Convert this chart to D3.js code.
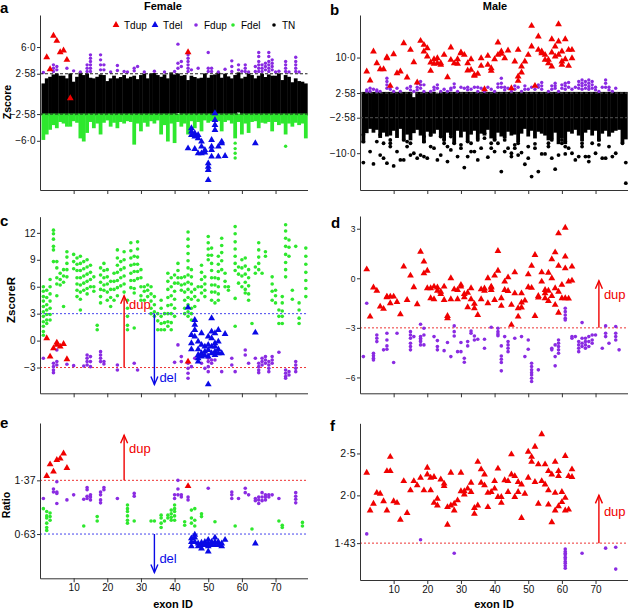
<!DOCTYPE html>
<html>
<head>
<meta charset="utf-8">
<script src="https://cdn.jsdelivr.net/npm/d3@7"></script>
<style>
body { margin: 0; background: #fff; }
text { font-family: "Liberation Sans", Arial, sans-serif; }
</style>
</head>
<body>
<svg id="chart" width="631" height="611"></svg>
<script>
var RED = "#f00000", BLUE = "#0a0ae6", PURPLE = "#8a2be2", GREEN = "#2ee82e", BLACK = "#000";

var exonTicks = [10, 20, 30, 40, 50, 60, 70];

// ---- panel a (Female, Zscore) ----
var tnTopA = [1.15,1.8,2.0,2.3,2.43,2.14,2.14,1.8,2.43,1.37,2.0,2.56,2.22,2.43,1.88,1.8,2.0,2.3,2.22,1.45,
  1.8,2.14,1.8,1.97,2.22,1.8,2.0,2.14,1.7,2.22,2.4,1.8,2.43,2.48,2.22,2.0,2.3,1.8,2.56,2.3,
  2.43,2.14,2.22,1.58,2.14,1.97,1.8,1.88,2.43,1.88,2.22,2.3,2.56,1.88,2.4,2.05,1.8,2.22,2.56,1.8,
  2.0,2.43,2.22,1.8,2.14,2.4,1.97,2.3,2.14,2.14,2.43,1.58,2.22,2.0,1.3,1.8,1.45,1.37,1.15];
var tnBotA = [-2.58,-2.58,-2.58,-2.58,-2.58,-2.58,-2.58,-2.58,-2.58,-2.58,-2.58,-2.58,-2.58,-2.58,-2.58,-2.58,-2.58,-2.58,-2.58,-2.58,
  -2.58,-2.58,-2.58,-2.58,-2.58,-2.58,-2.58,-2.58,-2.58,-2.58,-2.58,-2.58,-2.58,-2.58,-2.58,-2.58,-2.58,-2.58,-2.58,-2.58,
  -2.26,-2.58,-2.58,-2.58,-2.58,-2.58,-2.58,-2.58,-2.58,-2.58,-2.58,-2.58,-2.58,-2.58,-2.58,-2.58,-2.58,-2.58,-2.2,-2.58,
  -2.58,-2.58,-2.58,-2.58,-2.58,-2.58,-2.58,-2.58,-2.58,-2.58,-2.58,-2.58,-2.58,-2.58,-2.58,-2.58,-2.58,-2.58,-2.58];
var fdelBotA = [-5.7,-5.0,-4.4,-3.8,-4.2,-3.4,-3.6,-4.0,-4.0,-3.3,-3.5,-5.5,-5.9,-4.8,-3.4,-4.2,-3.6,-5.0,-3.5,-3.2,
  -4.0,-3.5,-4.2,-3.4,-3.6,-3.3,-3.4,-6.3,-3.6,-4.6,-3.5,-4.0,-3.3,-3.6,-3.2,-5.0,-3.8,-5.9,-3.6,-6.1,
  -3.4,-4.0,-3.6,-5.0,-3.3,-4.2,-3.4,-4.6,-3.2,-3.5,-3.3,-3.0,-3.3,-4.6,-3.4,-3.2,-3.6,-5.5,-3.4,-5.0,
  -3.6,-4.8,-3.4,-3.3,-4.2,-3.5,-3.6,-3.4,-4.6,-3.4,-3.8,-3.6,-5.0,-3.6,-4.0,-3.5,-3.8,-3.6,-5.5];
var fdelExtraA = [[58,[-6.3,-7.0,-7.6,-8.2]],[73,[-6.7]]];
var fdupA = [[1,[2.74]],[4,[3.72,3.29,2.86]],[5,[3.5,3.08]],[8,[3.29]],[10,[2.95]],[12,[2.8]],
  [14,[3.72,3.29,2.86]],[15,[5.0,4.57,4.15,3.72,3.29,2.86]],[18,[5.0,4.36,3.72,3.08]],[19,[3.72,3.08]],
  [21,[2.8]],[23,[3.63,2.99]],[25,[2.86]],[26,[2.8]],[28,[3.29,2.95]],[29,[3.5]],[31,[2.8]],[34,[2.9]],
  [37,[2.8]],[40,[2.86]],[41,[6.37,3.93,3.29]],[42,[4.15,3.5]],[44,[5.0,4.57,4.15,3.72,3.29,2.86]],
  [45,[3.08]],[47,[3.29]],[50,[5.3,3.29,2.86]],[51,[3.29,2.86]],[53,[2.8]],[55,[3.16]],[57,[4.23,3.5,2.86]],
  [59,[3.72,3.08]],[60,[2.9]],[61,[3.72,3.29,2.86]],[62,[2.8]],[64,[3.5,2.86]],[65,[5.3,4.79,4.15,3.72,3.29,2.86]],
  [66,[3.72,3.29,2.86]],[67,[3.93,3.5,3.08]],[68,[5.3,4.79,4.15,3.72,3.29,2.86]],[69,[4.36,3.93,3.5,3.08]],
  [70,[2.8]],[71,[2.9]],[73,[4.15,3.72,3.29,2.86]],[74,[2.8]],[76,[4.7,4.15,3.72,3.29,2.86]],[77,[2.8]]];
var tdupA = [[2,[4.7]],[3,[3.16]],[4,[7.44]],[5,[6.79]],[6,[5.34]],[7,[5.56]],[8,[4.36]],[9,[-0.56]],[44,[5.34]]];
var tdelA = [[44,[-6.97]],[45,[-4.4,-4.83,-5.26]],[46,[-5.04,-5.47,-7.05]],[47,[-5.26,-5.68,-7.61]],
  [48,[-6.11,-6.75,-7.61]],[49,[-7.18,-7.52]],[50,[-8.89,-9.32,-9.74,-11.03]],[51,[-5.9,-6.75,-7.18,-8.03]],
  [52,[-2.48,-3.33,-3.97,-4.62]],[53,[-6.75,-8.03]],[54,[-6.11,-6.32]],[55,[-7.95]],[64,[-6.32]]];

// ---- panel b (Male, Zscore) ----
var tnTopB = [2.5,2.5,2.5,2.5,2.5,2.5,2.5,2.5,2.5,2.5,2.5,2.5,2.5,2.5,2.5,1.4,2.5,2.5,2.5,2.5,
  2.5,2.5,2.2,2.5,2.5,2.5,2.5,2.5,2.5,2.5,2.5,2.5,2.5,2.5,2.5,2.5,2.5,2.5,2.5,2.5,
  2.5,2.5,2.5,2.5,2.5,2.5,2.5,2.5,2.5,2.5,2.5,2.5,2.5,2.5,2.5,2.5,2.5,2.5,2.5,2.5,
  2.5,2.5,2.5,2.5,2.5,2.5,2.5,2.5,2.5,2.5,2.5,2.5,2.5,2.5,2.5,2.5,2.5,2.5,2.5];
var tnBotB = [-7.6,-5.5,-4.6,-5.4,-4.8,-6.5,-5.4,-6.2,-6.0,-5.0,-6.5,-4.6,-7.0,-5.8,-7.0,-5.5,-4.8,-6.0,-7.6,-5.2,
  -6.2,-5.6,-4.8,-6.4,-7.0,-5.4,-6.0,-7.8,-5.0,-6.4,-5.2,-7.4,-5.8,-5.0,-6.8,-5.6,-6.0,-4.8,-6.6,-7.0,
  -5.4,-6.2,-6.6,-5.2,-6.0,-5.8,-7.4,-5.6,-4.6,-6.2,-5.0,-6.6,-5.2,-5.6,-6.0,-7.0,-6.8,-5.4,-7.8,-6.6,
  -7.8,-5.2,-5.6,-4.8,-6.0,-7.2,-5.4,-4.8,-6.0,-5.0,-7.2,-5.6,-5.0,-6.2,-5.4,-5.0,-4.8,-7.6,-6.8];
var tnOutB = [[1,[-6.17,-7.57,-11.96]],[3,[-9.66]],[4,[-12.24]],[5,[-7.57]],[6,[-10.39,-6.17]],[7,[-7.92,-11.05]],
  [8,[-12.1]],[9,[-7.22,-7.92,-8.61]],[10,[-12.66]],[11,[-9.66]],[12,[-11.4]],[13,[-7.22,-11.4]],[14,[-7.57,-8.61]],
  [15,[-7.92,-10.39]],[16,[-10.01]],[17,[-11.05]],[18,[-10.39]],[19,[-6.52,-7.57,-10.7]],[20,[-11.05]],
  [21,[-6.17,-8.61]],[22,[-8.96]],[23,[-11.4]],[24,[-6.52,-10.39]],[25,[-7.22,-7.92]],[26,[-8.61,-11.75]],
  [27,[-9.31,-6.52]],[28,[-7.92]],[29,[-10.7]],[30,[-8.26,-8.96]],[31,[-13.0]],[32,[-7.57,-10.7]],
  [33,[-7.92,-9.66]],[34,[-9.66]],[35,[-7.22,-11.4]],[36,[-8.96]],[37,[-5.82,-6.87]],[38,[-10.84]],
  [39,[-7.92,-8.96]],[40,[-7.22,-9.66]],[41,[-7.92]],[42,[-13.84]],[43,[-7.22,-9.66]],[44,[-8.96]],
  [45,[-10.01,-10.7]],[46,[-8.26,-8.96]],[47,[-7.92,-10.39]],[48,[-9.87]],[49,[-12.31]],[50,[-8.61,-11.05]],
  [51,[-14.89]],[52,[-8.05,-8.96]],[53,[-13.84]],[54,[-10.15]],[55,[-10.15]],[56,[-7.92,-8.61]],
  [57,[-11.05,-7.22]],[58,[-13.35]],[59,[-10.39]],[60,[-7.22,-7.92]],[61,[-7.57,-8.61,-10.15]],[62,[-8.96]],
  [63,[-10.01]],[64,[-11.4]],[65,[-10.7]],[66,[-7.92,-8.61]],[67,[-10.7]],[68,[-10.7,-11.75]],[69,[-7.92]],
  [70,[-10.01]],[71,[-7.22,-8.26]],[72,[-11.05]],[73,[-11.05]],[74,[-8.61]],[75,[-10.7]],[76,[-10.01]],
  [78,[-7.92]],[79,[-11.96,-16.28]]];
var fdupB = [[2,[3.24,2.9]],[3,[3.59,2.9]],[4,[3.38]],[5,[3.24,2.9]],[6,[2.9]],[8,[5.68,4.99,4.29,3.59]],[9,[3.94,3.38]],
  [10,[2.9]],[11,[3.59]],[12,[2.9]],[14,[3.59]],[15,[3.94,3.24]],[16,[2.9]],[17,[4.64,3.8,3.24]],[18,[4.99,4.29,3.59]],
  [19,[4.29,2.9]],[21,[2.9]],[22,[3.8,3.24]],[23,[4.29,3.59]],[24,[2.9]],[25,[3.38]],[26,[2.9]],[27,[3.59,3.24]],
  [28,[4.5,3.8]],[29,[2.9]],[30,[3.8]],[31,[3.59]],[32,[3.8,3.24]],[33,[3.38]],[34,[3.8]],[35,[3.8,2.9]],[36,[3.59]],
  [37,[2.9]],[38,[3.8]],[39,[3.38]],[40,[2.9]],[41,[4.5,3.8]],[42,[5.68,4.64,3.8]],[43,[3.8,3.24]],[44,[3.59]],
  [45,[2.9]],[46,[4.08,3.38]],[47,[3.8]],[48,[2.9]],[49,[4.08,3.38]],[50,[3.38]],[51,[3.8]],[52,[3.38]],
  [53,[4.29,3.8]],[54,[4.78,4.08,3.38]],[56,[2.9]],[57,[4.08,3.38]],[58,[4.64,4.08,3.59]],[59,[2.9]],[60,[4.29,3.59]],
  [61,[4.64,4.08,3.38]],[62,[4.78,3.8]],[63,[3.38]],[64,[3.8]],[65,[4.99,4.29,3.59]],[66,[5.33,4.64,4.08,3.38]],
  [67,[4.99,4.29,3.59]],[68,[5.33,4.64,3.94,3.38]],[69,[4.99,4.29,3.59]],[70,[3.8,3.24]],[71,[2.9]],[72,[3.8]],
  [73,[5.33,4.64,3.8]],[74,[3.8,3.24]],[75,[2.9]],[76,[3.59]]];
var tdupB = [[2,[7.08]],[3,[5.2]],[4,[11.26]],[5,[8.82]],[6,[7.57]],[7,[7.57]],[8,[10.08,9.87]],[9,[4.08]],
  [10,[10.7]],[11,[6.73]],[12,[7.08]],[13,[13.0]],[14,[5.82]],[15,[11.61]],[16,[9.03]],[17,[4.78]],[18,[13.49]],
  [19,[12.66,11.26]],[20,[11.96,10.22]],[21,[8.96,7.22]],[22,[9.66,8.68]],[23,[8.82,9.87]],[24,[8.47,8.82]],
  [25,[10.57]],[26,[5.89]],[27,[12.1,9.52]],[28,[8.82]],[29,[9.66,8.68]],[30,[10.91,11.05]],[31,[10.57]],
  [32,[8.82,7.29]],[33,[7.43,9.66]],[34,[6.38,6.17]],[35,[6.59]],[36,[8.26,9.87]],[37,[3.38]],[38,[10.36,8.47]],
  [39,[7.78,7.22]],[40,[9.66]],[41,[13.15,10.57]],[42,[11.26,10.77]],[43,[9.87]],[44,[11.47]],[45,[3.59]],
  [46,[9.17]],[47,[11.61,6.03,5.13]],[48,[6.87,8.12]],[49,[9.17]],[50,[10.57]],[51,[16.63,12.31]],[52,[4.08]],
  [53,[11.61,14.4]],[54,[11.26,10.91]],[55,[10.57,9.52]],[56,[9.52,8.82]],[57,[13.84,11.05,8.12]],[58,[12.31,10.22]],
  [59,[16.98,13.35,10.57]],[60,[11.26,9.17,8.47]],[61,[13.84,9.66]],[62,[11.61,8.26]],[63,[11.61,9.87]]];

// ---- panel c (Female, ZscoreR) ----
var fdelC = [[1,[6.0,5.5,4.9,4.4,3.8,3.2,2.7,2.1,1.6,1.0,0.6]],[2,[5.6,4.8,4.0,3.4,2.9,2.3,1.9]],
  [3,[6.8,6.0,5.2,4.4,3.6,2.9,2.3]],[4,[12.3,11.9,11.3,10.5,10.1,8.8]],[5,[8.8,8.1,7.0,6.3,5.0]],[6,[7.5,6.8,6.2]],
  [7,[7.9,7.2,6.5,3.8]],[8,[9.9,9.3,8.6,7.9,7.1]],[10,[9.6,8.8,8.0]],[11,[9.2,8.5,7.8,7.0,6.3,5.6,4.9]],
  [12,[9.4,8.6,7.8,7.0,6.2,5.4,4.6,3.4]],[13,[8.8,8.0,7.2,6.4,5.6]],[14,[9.0,8.2,7.4,6.6,5.8,5.2]],
  [15,[8.4,7.6,6.8,6.0]],[16,[7.1,6.0,5.5]],[17,[1.7,1.2]],[18,[8.1,7.3,6.5,5.7,4.9,4.2]],[19,[8.6,7.8,7.0,6.2,5.6]],
  [20,[7.9,7.1,6.3,5.4,4.5]],[21,[6.6,5.7,4.8,3.8]],[22,[7.5,6.6,5.7,4.5]],[23,[10.1,9.2,8.4,7.6,6.7,5.9,5.0]],
  [24,[8.8,7.9,7.0,6.1]],[25,[9.9,9.0,8.1,7.2,6.3,5.4]],[26,[4.5,3.6,2.7,1.7,1.2]],[27,[10.9,10.0,9.2,8.4,7.5,6.7,5.9]],
  [28,[9.4,8.5,7.7,6.7,5.8,5.3,1.4]],[29,[11.0,10.2,9.3,8.5,7.7,6.9]],[30,[7.9,7.0,6.0,5.0,4.5]],[31,[6.0,5.5,4.5]],
  [32,[6.2,5.6,4.9]],[33,[6.0,5.2,4.4,3.6,3.0]],[34,[4.9,4.0,3.2,2.7]],[35,[3.0,2.2,1.2]],[36,[4.5,3.6,2.7,1.9,1.2]],
  [37,[3.0,2.0,1.2]],[38,[7.5,6.6,5.7,4.8,3.9,3.0,2.1,1.6]],[39,[7.0,6.0,5.0,4.0,3.0,2.0,1.2]],
  [40,[7.3,6.4,5.5,4.6,3.6,2.7]],[41,[8.6,7.8,7.0,6.4]],[42,[7.0,6.2,5.6]],[43,[7.1,6.3,5.4,4.5,3.6,3.0]],
  [44,[12.1,11.3,10.5,9.7,8.9,8.1,7.3,6.5,5.7,4.8,4.0,3.2,2.7]],[45,[7.9,7.1,6.3,5.4,4.6,3.6,3.0,2.3]],
  [46,[5.7,4.9,3.8]],[47,[6.0,4.5]],[48,[8.4,7.6,6.8,6.0,5.3]],[49,[7.1,6.3,5.6,4.9]],[50,[11.6,10.9,10.2,9.5,9.0]],
  [51,[10.3,9.5,8.6,7.8,7.0,6.2,5.4,4.5]],[52,[7.0,6.2,5.4,4.2]],[53,[9.4,8.5,7.7,6.9,6.0,5.2,4.5]],
  [54,[11.4,10.6,9.8,8.9,7.9]],[55,[7.5,6.6,6.0]],[56,[6.0,5.6]],[58,[12.7,11.9,11.0,10.2,9.4,8.6,7.8,4.7,1.6]],
  [59,[8.2,7.4,6.4]],[60,[9.0,8.1,7.2,6.0]],[61,[9.2,8.3,7.4,6.5,5.7,5.3]],[62,[7.9,7.0,6.1,5.2,4.5]],[63,[1.9]],
  [64,[8.2,7.5]],[65,[10.9,10.1,9.3,8.6,7.9]],[66,[7.5]],[67,[9.9,9.4]],[69,[7.1,6.3,5.5,4.5]],[70,[5.6,5.0,4.2]],
  [71,[3.4,2.7,1.9]],[72,[4.9,4.2,3.3,2.7,1.9]],[73,[12.9,12.2,11.4,10.5,9.6,8.7,7.9,7.1]],[74,[11.2,10.4,9.4]],
  [75,[5.6,4.6]],[76,[10.5]],[77,[4.2,3.4,2.5,1.9]],[79,[10.3,9.4,8.5,7.6,6.7,5.8,4.9]]];
var fdupC = [[1,[-1.97]],[4,[-2.53,-2.9,-3.27,-3.57]],[5,[-1.04,-2.34,-2.71]],[8,[-2.64]],[10,[-2.79]],[13,[-2.83]],
  [14,[-1.6,-1.97,-2.34,-2.71]],[15,[-1.78,-2.34,-2.9]],[18,[-1.23,-1.6,-1.97,-2.34]],[19,[-2.34,-2.6]],
  [23,[-2.71,-3.27]],[28,[-2.53]],[29,[-3.27]],[40,[-2.42]],[41,[-0.48]],[42,[-1.78,-2.34]],
  [44,[-2.53,-3.09,-3.64,-4.2]],[45,[-2.9]],[46,[-1.97]],[48,[-2.53]],[49,[-3.09]],[50,[-1.6,-1.97,-2.34,-2.9,-3.46]],
  [51,[-2.16,-2.53]],[52,[-2.16]],[54,[-3.46]],[57,[-1.97,-2.71]],[58,[-3.46]],[61,[-1.04,-1.6]],[62,[-2.53]],
  [64,[-1.97]],[65,[-2.53,-2.9,-3.27,-3.57]],[66,[-1.97,-2.34,-2.71]],[67,[-1.78,-2.16,-2.53]],
  [68,[-2.34,-2.71,-3.09,-3.46]],[69,[-1.78,-2.16,-2.53]],[71,[-1.3]],[73,[-3.27,-3.64,-4.01,-4.2]],
  [74,[-3.46,-3.83]],[76,[-2.34,-2.71,-3.09,-3.46]]];
var tdelC = [[44,[3.68]],[45,[0.63,-0.3,-0.97]],[46,[2.3,1.75,1.19,0.45]],[47,[-0.11,-0.97,-1.6,-1.97,-2.34]],
  [48,[0.82,-0.48,-1.41,-1.78]],[49,[-0.67,-1.23,-1.67]],[50,[0.45,-0.48,-1.04,-1.78,-4.87]],
  [51,[2.49,1.0,0.26,-0.67,-1.41]],[52,[0.82,-0.3,-0.67,-1.23,-1.6]],[53,[1.19,-0.11,-0.97,-1.41]],
  [54,[-1.41]],[55,[0.74]],[64,[0.89]]];
var tdupC = [[2,[0.26]],[3,[-1.78]],[4,[-0.86]],[5,[-0.22,-0.48]],[6,[-0.67]],[7,[-0.37]],[8,[-2.08]],[44,[-2.34]]];

// ---- panel d (Male, ZscoreR) ----
var tdupD = [[2,[0.54]],[3,[-2.32]],[4,[-0.56]],[5,[-0.75]],[6,[-1.71]],[7,[-1.85]],[8,[-1.11,-1.15]],[9,[-1.11,-1.51]],
  [10,[-1.11]],[11,[-1.43]],[12,[-2.18]],[13,[0.71]],[14,[-1.31]],[15,[0.16]],[16,[-0.54]],[17,[-1.57]],[18,[1.61]],
  [19,[1.01,0.3]],[20,[0.46,-0.6]],[21,[-1.21,-0.6]],[22,[-0.5,-1.27]],[23,[-0.56,-0.75]],[24,[-0.81,-0.95]],
  [25,[-1.31,-0.5]],[26,[-2.28,-2.42]],[27,[0.0,-1.27]],[28,[-0.67]],[29,[-0.71,-1.27]],[30,[-0.4,-0.5]],
  [31,[-0.95,-1.15]],[32,[-0.87,-1.75]],[33,[-0.6,-1.27]],[34,[-1.55,-1.81]],[35,[-2.22]],[36,[-0.67,-1.27]],
  [37,[-0.62,-0.75]],[38,[0.0,-1.51]],[39,[-0.5,-0.56,-0.71]],[40,[0.16,-1.31]],[41,[1.65,0.46]],[42,[-1.21,-1.67]],
  [43,[-0.2,-0.71]],[44,[0.06,-0.77]],[45,[-1.61,-2.82]],[46,[0.36,-0.91]],[47,[-1.81,-2.32]],[48,[-1.77,-0.91,-1.47]],
  [49,[-1.35]],[50,[0.24,-0.54]],[51,[0.75,-0.58]],[52,[1.41,-2.28]],[53,[-1.07,-1.17]],[54,[0.36,-0.2]],
  [55,[-0.71,-1.21,-0.91]],[56,[0.34,-0.75,-1.37]],[57,[1.15,0.0,-1.07]],[58,[1.57,-0.6,-1.61]],
  [59,[2.72,0.75,-0.81,-2.08]],[60,[-0.4,-1.21]],[61,[3.06,1.31,0.6,-1.21]],[62,[-0.2,-1.23]],[63,[0.71,-0.14]]];
var fdupD = [[1,[-4.74]],[2,[-1.51]],[4,[-4.54,-4.68,-4.84,-4.94]],[5,[-3.43,-3.63,-3.83]],[7,[-4.33]],
  [8,[-3.33,-3.73,-4.09,-4.29]],[10,[-5.1]],[11,[-3.33]],[15,[-3.23,-3.43,-3.63,-3.93,-4.13,-4.33]],[16,[-3.53]],
  [18,[-2.78,-3.53,-3.63,-3.73,-3.83,-4.03]],[19,[-3.02,-3.43,-4.03]],[22,[-3.53]],[23,[-3.77,-4.13,-4.33]],
  [25,[-4.38]],[26,[-3.89]],[27,[-4.74]],[28,[-2.88,-3.23,-3.49]],[29,[-4.44]],[30,[-3.89,-4.44]],[31,[-4.84,-5.08]],
  [32,[-3.83,-4.09]],[33,[-3.19,-3.33]],[34,[-3.49,-3.73]],[35,[-3.69]],[37,[-3.69,-4.23]],[39,[-2.96]],
  [41,[-3.02,-3.23,-3.37,-3.47]],[42,[-4.09,-4.7,-4.9,-5.1,-5.6]],[43,[-3.53]],[44,[-3.83,-4.03,-4.23,-4.44]],
  [46,[-3.63]],[48,[-3.53]],[49,[-4.74]],[50,[-3.73,-4.29]],[51,[-5.14,-5.34,-5.54,-5.71,-5.85,-6.05,-6.25]],
  [53,[-5.54]],[57,[-4.23,-4.33]],[58,[-4.03,-4.74,-5.3]],[59,[-3.73,-3.93,-4.13,-4.33,-4.54]],
  [61,[-1.81,-2.02,-2.22,-2.42,-2.52]],[63,[-3.53,-3.63]],[64,[-3.53]],[65,[-3.83,-4.03,-4.23,-4.44]],
  [66,[-2.68,-3.63,-3.93,-4.13]],[67,[-3.63,-3.83,-4.03,-4.23]],[68,[-3.53,-3.83,-4.13]],[69,[-3.43,-3.73,-3.93]],
  [70,[-3.43]],[72,[-4.23]],[73,[-2.88,-3.33,-3.53]],[74,[-3.93]],[76,[-2.92,-3.33,-3.53,-3.73]],[77,[-4.33]]];

// ---- panel e (Female, Ratio) ----
var tdupE = [[2,[1.43]],[3,[1.59]],[4,[1.49]],[5,[1.65]],[6,[1.67]],[7,[1.74]],[8,[1.54]],[44,[1.29]]];
var fdupE = [[1,[1.12]],[4,[1.25,1.21]],[5,[1.35,1.21,1.19,1.05]],[8,[1.1]],[10,[1.17]],[13,[1.11]],
  [14,[1.27,1.24,1.15,1.12]],[15,[1.17,1.14,1.1]],[18,[1.21,1.17,1.1,1.06]],[19,[1.27,1.24]],[23,[1.12]],
  [28,[1.19,1.15]],[40,[1.17,1.12]],[41,[1.37,1.25,1.17]],[42,[1.17,1.14]],[44,[1.14,1.1]],[50,[1.26]],
  [57,[1.21,1.17,1.12]],[59,[1.12]],[61,[1.26,1.2]],[62,[1.17]],[64,[1.12,1.09]],[65,[1.14,1.1,1.05]],
  [66,[1.2,1.14,1.09]],[67,[1.17,1.14,1.1]],[68,[1.17,1.14]],[69,[1.17]],[71,[1.12]],[76,[1.2,1.15,1.11,1.06]]];
var fdelE = [[1,[0.98]],[2,[0.94,0.88,0.85,0.78,0.72,0.68]],[3,[0.92,0.87,0.82]],[13,[0.74]],[17,[0.87,0.81]],
  [26,[1.03,0.98,0.94,0.88,0.82,0.78]],[28,[0.81]],[33,[0.81]],[34,[0.81]],[36,[0.89,0.85,0.78,0.72]],[37,[0.81]],
  [38,[0.89,0.85]],[39,[0.96,0.91,0.86,0.82]],[40,[1.03,0.98,0.94,0.88,0.82]],[43,[0.8,0.75]],[45,[0.96,0.85,0.78]],
  [46,[0.98,0.82,0.74]],[48,[0.91,0.87]],[52,[0.8]],[58,[0.74]],[63,[0.7]],[71,[0.81]],[72,[0.75,0.72]],[78,[0.79,0.74]]];
var tdelE = [[45,[0.57,0.52,0.46]],[46,[0.62,0.58,0.52]],[47,[0.5,0.46]],[48,[0.51,0.48,0.43]],[49,[0.52,0.48]],
  [50,[0.55,0.5,0.46,0.39]],[51,[0.52,0.48]],[52,[0.58,0.52,0.48]],[53,[0.52,0.48]],[54,[0.5,0.46]],[55,[0.55]],[64,[0.5]]];

// ---- panel f (Male, Ratio) ----
var tdupF = [[2,[2.27]],[3,[1.82]],[4,[1.9]],[5,[2.03]],[6,[2.02]],[7,[1.93]],[8,[1.82,2.29]],[9,[2.46,2.29]],
  [10,[1.93]],[11,[1.91]],[12,[1.71]],[13,[2.17]],[14,[1.79]],[15,[2.06]],[16,[2.17]],[17,[2.12]],[18,[2.21]],
  [19,[2.06]],[20,[2.33,2.25]],[21,[2.21,2.06]],[22,[2.22,1.91]],[23,[1.96,1.88]],[24,[2.19]],[25,[2.14,2.11]],
  [26,[1.86,1.65]],[27,[2.27,1.88]],[28,[1.82,1.9]],[29,[1.94]],[30,[2.27,2.05]],[31,[2.05,2.01]],[32,[2.08]],
  [33,[2.15,2.04]],[34,[1.85,1.78]],[35,[2.4,1.88]],[36,[2.31,2.15]],[37,[2.25,2.12]],[38,[1.86,2.03]],[39,[2.04]],
  [40,[2.17,2.08]],[41,[2.32,1.98]],[42,[1.98,1.91]],[43,[2.18]],[44,[2.17,2.04]],[45,[2.49,2.25]],[46,[2.23,1.98]],
  [47,[2.16,2.04]],[48,[2.13,1.73]],[49,[2.02]],[50,[2.52,2.21]],[51,[2.46,2.4]],[52,[2.58,2.16]],[53,[2.37,1.9]],
  [54,[2.73,2.17]],[55,[2.37,2.13]],[56,[2.29,2.06,1.89]],[57,[2.25,1.68]],[58,[2.4,2.03,1.82]],[59,[2.29,2.23,1.87]],
  [60,[2.04,1.92]],[61,[2.47,1.97,1.82]],[62,[2.23,1.83]],[63,[2.31,2.22]]];
var fdupF = [[2,[1.54]],[18,[1.47]],[28,[1.31]],[61,[1.36,1.33,1.31,1.29,1.26,1.24,1.21,1.19,1.16,1.13]],
  [66,[1.31]],[73,[1.37]],[76,[1.38,1.12]]];

var legendItems = [["Tdup", "tri", RED], ["Tdel", "tri", BLUE], ["Fdup", "dot", PURPLE], ["Fdel", "dot", GREEN], ["TN", "dot", BLACK]];

// ---------------------------------------------------------------
var svg = d3.select("#chart");
var triPath = d3.symbol().type(d3.symbolTriangle).size(20)();

function flat(list) {
    var out = [];
    list.forEach(function(d) {
        d[1].forEach(function(v) { out.push({exon: d[0], v: v}); });
    });
    return out;
}

function makePanel(left, right, top, bottom, yDomain) {
    return {
        x: d3.scaleLinear().domain([0, 79.5]).range([left, right]),
        y: d3.scaleLinear().domain(yDomain).range([bottom, top]),
        left: left, right: right, top: top, bottom: bottom,
        g: svg.append("g")
    };
}

function axes(p, ticks, labels, showX, fs) {
    var xa = p.g.append("g")
        .attr("transform", "translate(0," + p.bottom + ")")
        .call(d3.axisBottom(p.x).tickValues(exonTicks).tickSize(4).tickSizeOuter(0)
            .tickFormat(showX ? d3.format("d") : ""));
    var ya = p.g.append("g")
        .attr("transform", "translate(" + p.left + ",0)")
        .call(d3.axisLeft(p.y).tickValues(ticks).tickSize(3).tickSizeOuter(0)
            .tickFormat(function(d, i) { return labels[i]; }));
    [xa, ya].forEach(function(a) {
        a.attr("font-family", null).attr("font-size", null);
        a.selectAll("path, line").attr("stroke", "#333").attr("stroke-width", 1);
    });
    xa.selectAll("text").attr("font-size", "10px").attr("y", 6).attr("fill", "#111");
    ya.selectAll("text").attr("font-size", fs + "px").attr("fill", "#111").attr("x", -4.5);
}

function dots(p, list, color, r) {
    p.g.append("g").selectAll("circle")
        .data(flat(list))
        .enter().append("circle")
        .attr("cx", function(d) { return p.x(d.exon); })
        .attr("cy", function(d) { return p.y(d.v); })
        .attr("r", r || 1.7)
        .attr("fill", color);
}

function tris(p, list, color) {
    p.g.append("g").selectAll("path")
        .data(flat(list))
        .enter().append("path")
        .attr("d", triPath)
        .attr("transform", function(d) { return "translate(" + p.x(d.exon) + "," + p.y(d.v) + ")"; })
        .attr("fill", color);
}

// vertical bands of stacked points, one per exon
function bands(p, hi, lo, color) {
    var w = p.x(1) - p.x(0);
    p.g.append("g").selectAll("rect")
        .data(hi.map(function(h, i) { return {exon: i + 1, hi: h, lo: lo[i]}; }))
        .enter().append("rect")
        .attr("x", function(d) { return p.x(d.exon) - w / 2 - 0.2; })
        .attr("width", w + 0.4)
        .attr("y", function(d) { return p.y(d.hi) - 1.5; })
        .attr("height", function(d) { return p.y(d.lo) - p.y(d.hi) + 3; })
        .attr("fill", color);
}

function hline(p, v, color, dash) {
    p.g.append("line")
        .attr("x1", p.left).attr("x2", p.right)
        .attr("y1", p.y(v)).attr("y2", p.y(v))
        .attr("stroke", color).attr("stroke-width", 1)
        .attr("stroke-dasharray", dash);
}

function arrow(p, exon, from, to, color, label, labelV) {
    var x = p.x(exon), y0 = p.y(from), y1 = p.y(to);
    var s = y1 < y0 ? 1 : -1;
    p.g.append("line").attr("x1", x).attr("x2", x).attr("y1", y0).attr("y2", y1)
        .attr("stroke", color).attr("stroke-width", 1.4);
    p.g.append("path")
        .attr("d", "M" + (x - 3.5) + "," + (y1 + s * 8) + "L" + x + "," + y1 + "L" + (x + 3.5) + "," + (y1 + s * 8))
        .attr("fill", "none").attr("stroke", color).attr("stroke-width", 1.4);
    p.g.append("text").attr("x", x + 5).attr("y", p.y(labelV))
        .attr("font-size", "13px").attr("fill", color).text(label);
}

function letter(t, x, y) {
    svg.append("text").attr("x", x).attr("y", y).attr("font-size", "15px")
        .attr("font-weight", "bold").text(t);
}

function ylab(t, x, y, fs) {
    svg.append("text").attr("transform", "translate(" + x + "," + y + ") rotate(-90)")
        .attr("text-anchor", "middle").attr("font-size", fs + "px").attr("font-weight", "bold").text(t);
}

// ---- a ----
var pa = makePanel(40, 307.5, 15, 190, [-12.3, 10.1]);
bands(pa, tnTopA, tnBotA, BLACK);
bands(pa, tnBotA.map(function(d) { return -2.7; }), fdelBotA, GREEN);
dots(pa, fdelExtraA, GREEN);
dots(pa, fdupA, PURPLE);
hline(pa, 2.58, "#222", "3,2");
hline(pa, -2.58, "#222", "3,2");
tris(pa, tdelA, BLUE);
tris(pa, tdupA, RED);
axes(pa, [6, 2.58, -2.58, -6], ["6·0", "2·58", "−2·58", "−6·0"], false, 10);

var lg = pa.g.append("g").selectAll("g").data(legendItems).enter().append("g")
    .attr("transform", function(d, i) { return "translate(" + [116, 155, 196, 233, 274][i] + ",25)"; });
lg.each(function(d) {
    var s = d3.select(this);
    if (d[1] === "tri") s.append("path").attr("d", triPath).attr("fill", d[2]);
    else s.append("circle").attr("r", 1.8).attr("fill", d[2]);
    s.append("text").attr("x", 8).attr("y", 3.5).attr("font-size", "10px").text(d[0]);
});

// ---- b ----
var pb = makePanel(360, 627.5, 15, 190, [-17.7, 18.9]);
bands(pb, tnTopB, tnBotB, BLACK);
dots(pb, tnOutB, BLACK, 1.9);
dots(pb, fdupB, PURPLE);
hline(pb, 2.58, "#555", "3,2");
hline(pb, -2.58, "#555", "3,2");
tris(pb, tdupB, RED);
axes(pb, [10, 2.58, -2.58, -10], ["10·0", "2·58", "−2·58", "−10·0"], false, 10);

// ---- c ----
var pc = makePanel(40, 307.5, 216.7, 393.3, [-5.87, 13.8]);
dots(pc, fdelC, GREEN, 1.8);
hline(pc, 3, "#4444ee", "2,2");
hline(pc, -3, "#ee3333", "2,2");
dots(pc, fdupC, PURPLE, 1.8);
tris(pc, tdelC, BLUE);
tris(pc, tdupC, RED);
arrow(pc, 25, -3, 5, RED, "dup", 3.5);
arrow(pc, 34, 3, -4.9, BLUE, "del", -4.6);
axes(pc, [12, 9, 6, 3, 0, -3], ["12", "9", "6", "3", "0", "−3"], false, 10);

// ---- d ----
var pd = makePanel(360, 627.5, 216, 393.3, [-6.96, 3.77]);
hline(pd, -3, "#ee3333", "2,2");
dots(pd, fdupD, PURPLE, 1.8);
tris(pd, tdupD, RED);
arrow(pd, 71, -3, -0.15, RED, "dup", -1.25);
axes(pd, [3, 0, -3, -6], ["3", "0", "−3", "−6"], false, 8.5);

// ---- e ----
var pe = makePanel(40, 307.5, 423, 578.3, [0.02, 2.16]);
hline(pe, 1.37, "#ee3333", "2,2");
hline(pe, 0.63, "#4444ee", "2,2");
dots(pe, fdupE, PURPLE, 1.8);
dots(pe, fdelE, GREEN, 1.8);
tris(pe, tdelE, BLUE);
tris(pe, tdupE, RED);
arrow(pe, 25, 1.37, 1.99, RED, "dup", 1.75);
arrow(pe, 34, 0.63, 0.1, BLUE, "del", 0.23);
axes(pe, [1.37, 0.63], ["1·37", "0·63"], true, 10.5);

// ---- f ----
var pf = makePanel(360, 627.5, 423.3, 580, [0.99, 2.86]);
hline(pf, 1.43, "#ee3333", "2,2");
dots(pf, fdupF, PURPLE, 1.8);
tris(pf, tdupF, RED);
arrow(pf, 71, 1.43, 2.0, RED, "dup", 1.75);
axes(pf, [2.5, 2.0, 1.43], ["2·5", "2·0", "1·43"], true, 10.5);

// ---- titles and labels ----
svg.append("text").attr("x", 163).attr("y", 10).attr("text-anchor", "middle")
    .attr("font-size", "11px").attr("font-weight", "bold").text("Female");
svg.append("text").attr("x", 495).attr("y", 10).attr("text-anchor", "middle")
    .attr("font-size", "11px").attr("font-weight", "bold").text("Male");
letter("a", 0, 13);
letter("b", 330, 15);
letter("c", 0, 226);
letter("d", 331, 228);
letter("e", 0, 428);
letter("f", 330, 431);
ylab("Zscore", 11, 102, 10.5);
ylab("ZscoreR", 15, 300, 11.5);
ylab("Ratio", 10, 505, 10.5);
svg.append("text").attr("x", 173).attr("y", 608).attr("text-anchor", "middle")
    .attr("font-size", "11px").attr("font-weight", "bold").text("exon ID");
svg.append("text").attr("x", 494).attr("y", 608).attr("text-anchor", "middle")
    .attr("font-size", "11px").attr("font-weight", "bold").text("exon ID");
</script>
</body>
</html>
